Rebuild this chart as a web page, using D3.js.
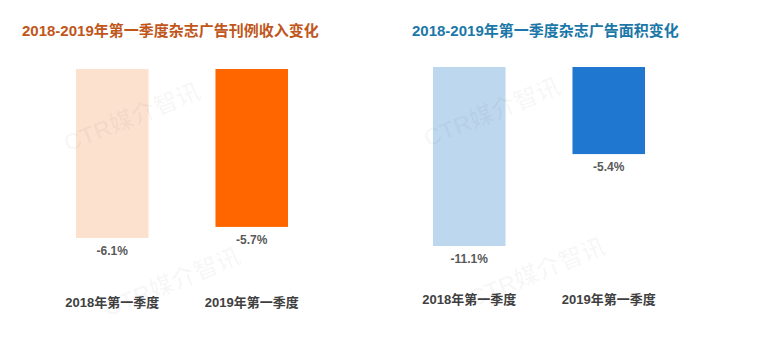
<!DOCTYPE html>
<html><head><meta charset="utf-8">
<script src="https://cdn.jsdelivr.net/npm/d3@7/dist/d3.min.js"></script>
<style>body{margin:0;background:#fff}svg{display:block}</style>
</head><body>
<script>
const categories = ["2018年第一季度", "2019年第一季度"];
const revenueValues = [-6.1, -5.7];
const areaValues = [-11.1, -5.4];
const titles = ["2018-2019年第一季度杂志广告刊例收入变化", "2018-2019年第一季度杂志广告面积变化"];
const watermark = "CTR媒介智讯";

const W = 757, H = 355;
const svg = d3.select("body").append("svg").attr("width", W).attr("height", H);
const font = "'Liberation Sans','Noto Sans CJK SC',sans-serif";

const panels = [
  {title: titles[0], values: revenueValues, titleX: 22, titleColor: "#c0561b",
   colors: ["#fce1cf", "#ff6600"], xr: [76, 288], yr: [69, 238], ymax: -6.1, axisY: 302},
  {title: titles[1], values: areaValues, titleX: 412, titleColor: "#1b77a8",
   colors: ["#bdd7ee", "#1f77d0"], xr: [433, 645], yr: [67, 246], ymax: -11.1, axisY: 299}
];

panels.forEach(p => {
  const g = svg.append("g");
  g.append("text").attr("x", p.titleX).attr("y", 36)
    .attr("font-family", font).attr("font-weight","bold").attr("font-size",15)
    .attr("fill", p.titleColor).text(p.title);

  const x = d3.scaleBand().domain(categories).range(p.xr).paddingInner(0.48).paddingOuter(0);
  const y = d3.scaleLinear().domain([0, p.ymax]).range(p.yr);
  const data = categories.map((c,i) => ({c, v: p.values[i], col: p.colors[i]}));

  g.selectAll("rect").data(data).join("rect")
    .attr("x", d => x(d.c)).attr("width", x.bandwidth())
    .attr("y", y(0)).attr("height", d => y(d.v) - y(0))
    .attr("fill", d => d.col);

  g.selectAll("text.val").data(data).join("text")
    .attr("class","val")
    .attr("x", d => x(d.c) + x.bandwidth()/2).attr("y", d => y(d.v) + 17)
    .attr("text-anchor","middle")
    .attr("font-family", font).attr("font-weight","bold").attr("font-size",12)
    .attr("fill","#595959").text(d => d.v.toFixed(1) + "%");

  const axis = d3.axisBottom(x).tickSize(0).tickPadding(0);
  const ag = g.append("g").attr("transform", `translate(0,${p.axisY})`).call(axis);
  ag.select(".domain").remove();
  ag.selectAll("text").attr("font-family", font).attr("font-weight","bold")
    .attr("font-size",13).attr("fill","#404040").attr("dy","0.35em");
});

// watermarks (on top, very faint)
const wm = [[135,125],[175,290],[495,120],[540,280]];
svg.selectAll("text.wm").data(wm).join("text")
  .attr("class","wm")
  .attr("transform", d => `translate(${d[0]},${d[1]}) rotate(-22)`)
  .attr("text-anchor","middle")
  .attr("font-family", font).attr("font-weight","bold").attr("font-size",24)
  .attr("fill","#000").attr("fill-opacity",0.03)
  .text(watermark);
</script>
</body></html>
